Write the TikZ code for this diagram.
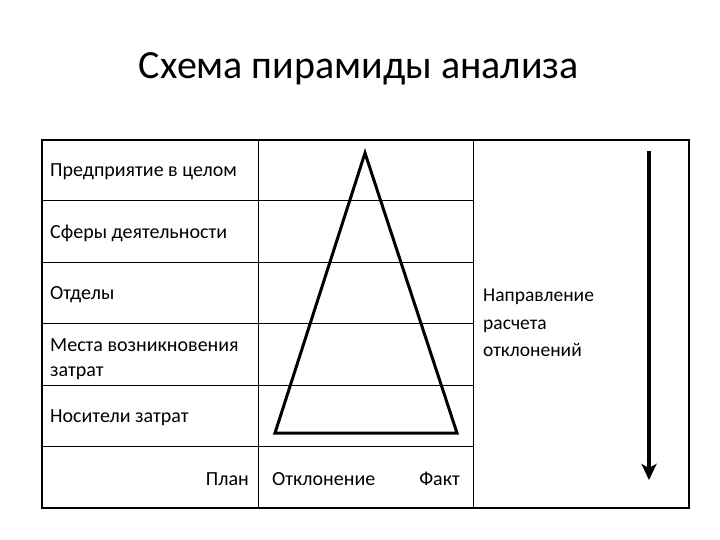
\documentclass[tikz,border=0pt]{standalone}
\usepackage{fontspec}
\setmainfont{Carlito}
\usetikzlibrary{arrows.meta,positioning}

\begin{document}
\begin{tikzpicture}[
  x=1pt,y=-1pt,
  outline/.style={line width=2.4pt},
  gridline/.style={line width=1pt},
  pyramid/.style={line width=3pt,line join=miter},
  direction/.style={line width=4pt,-{Stealth[length=16pt,width=15pt,inset=4pt]}},
  heading/.style={anchor=base,inner sep=0,font=\fontsize{40}{44}\selectfont},
  level/.style={anchor=base west,inner sep=0,font=\fontsize{20}{25}\selectfont},
  twoline/.style={anchor=north west,inner sep=0,align=left,font=\fontsize{20}{25}\selectfont},
  axislabel/.style={inner sep=0,font=\fontsize{20}{24}\selectfont},
  note/.style={anchor=north west,inner sep=0,align=left,font=\fontsize{19.5}{27.5}\selectfont}
]
\useasboundingbox (0,0) rectangle (720,540);

\node[heading] (title) at (359,79) {Схема пирамиды анализа};

\coordinate (tl) at (42,140);
\coordinate (br) at (689,508);
\draw[outline] (tl) rectangle (br);
\foreach \x in {258,473}
  \draw[gridline] (\x,140) -- (\x,508);
\foreach \y in {201,262,323,385,446}
  \draw[gridline] (42,\y) -- (473,\y);

\node[level] (L1) at (50,177) {Предприятие в целом};
\node[level] (L2) at (50,238) {Сферы деятельности};
\node[level] (L3) at (50,299) {Отделы};
\node[twoline] (L4) at (50,338) {Места возникновения\\затрат};
\node[level] (L5) at (50,422) {Носители затрат};

\node[axislabel,anchor=base east] (plan) at (249,485) {План};
\node[axislabel,anchor=base west] (dev) at (272,485) {Отклонение};
\node[axislabel,anchor=base east] (fact) at (460,485) {Факт};

\coordinate (apex) at (365,153);
\coordinate (baseL) at (275,433);
\coordinate (baseR) at (457,433);
\draw[pyramid] (apex) -- (baseL) -- (baseR) -- cycle;

\node[note] (dir) at (483,289) {Направление\\расчета\\отклонений};

\coordinate (arrtop) at (649,151);
\coordinate (arrbot) at (649,480);
\draw[direction] (arrtop) -- (arrbot);

\end{tikzpicture}
\end{document}
